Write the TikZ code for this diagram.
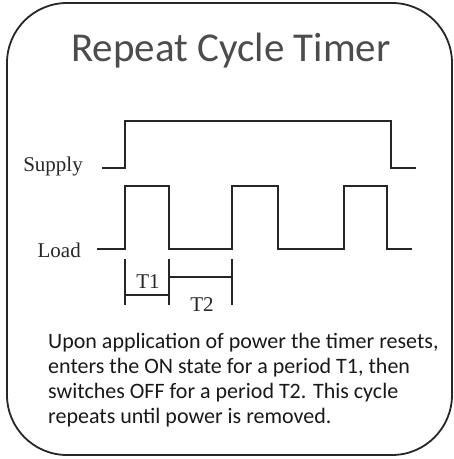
\documentclass[tikz,border=0pt]{standalone}
\usepackage{fontspec}
\setmainfont{Carlito}
\newfontfamily\wavefont{Liberation Serif}
\begin{document}
\begin{tikzpicture}[x=1pt,y=-1pt,
  frame/.style={draw=black!85, line width=1.8pt, rounded corners=60pt},
  wave/.style={draw=black!85, line width=1.5pt, line join=miter},
  tick/.style={draw=black!85, line width=1.2pt},
  wlabel/.style={font=\wavefont\fontsize{21}{21}\selectfont, text=black!85, inner sep=0pt},
  title/.style={font=\fontsize{41}{41}\selectfont, text=black!70, inner sep=0pt},
  para/.style={font=\fontsize{22}{25}\selectfont, text=black!90, inner sep=0pt, align=left}]
\useasboundingbox (0,0) rectangle (454,459);
\draw[frame] (7,3) rectangle (452,455);
\node[title, anchor=base] (title) at (231,61) {Repeat Cycle Timer};
% Supply waveform
\draw[wave] (102,168) -- (125,168) -- (125,121) -- (391,121) -- (391,168) -- (416,168);
% Load waveform
\draw[wave] (97,249) -- (125,249) -- (125,186) -- (169,186) -- (169,249) -- (232,249) -- (232,186) -- (278,186) -- (278,249) -- (344,249) -- (344,186) -- (387,186) -- (387,249) -- (412,249);
\node[wlabel, anchor=base east] (supply) at (83,171) {Supply};
\node[wlabel, anchor=base east] (load) at (81,257) {Load};
% timing markers
\draw[tick] (125,259) -- (125,305);
\draw[tick] (169,259) -- (169,305);
\draw[tick] (232,259) -- (232,305);
\draw[tick] (125,295) -- (169,295);
\draw[tick] (169,277) -- (232,277);
\node[wlabel, anchor=base] (t1) at (148,288) {T1};
\node[wlabel, anchor=base] (t2) at (202,311) {T2};
\node[para, anchor=base west] (text) at (48,423) {Upon application of power the timer resets,\\enters the ON state for a period T1, then\\switches OFF for a period T2. This cycle\\repeats until power is removed.};
\end{tikzpicture}
\end{document}
